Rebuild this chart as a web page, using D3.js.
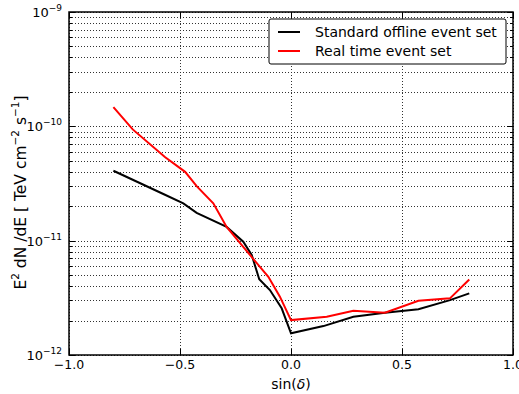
<!DOCTYPE html>
<html>
<head>
<meta charset="utf-8">
<script src="https://cdn.jsdelivr.net/npm/d3@7"></script>
<style>
  body { margin: 0; background: #fff; }
  text { font-family: "DejaVu Sans", sans-serif; }
</style>
</head>
<body>
<div class="canvas"></div>
<script>
// sin(dec) positions and fluxes
const offlineX = [-0.8, -0.575, -0.485, -0.425, -0.29, -0.215, -0.177, -0.143, -0.095, -0.042, 0.0, 0.146, 0.281, 0.423, 0.574, 0.716, 0.803];
const offlineY = [4.09e-11, 2.56e-11, 2.12e-11, 1.75e-11, 1.32e-11, 9.8e-12, 7.5e-12, 4.6e-12, 3.7e-12, 2.56e-12, 1.55e-12, 1.79e-12, 2.16e-12, 2.34e-12, 2.51e-12, 3.02e-12, 3.46e-12];
const realX = [-0.8, -0.713, -0.568, -0.477, -0.425, -0.35, -0.29, -0.185, -0.14, -0.102, -0.05, 0.0, 0.161, 0.281, 0.423, 0.574, 0.716, 0.803];
const realY = [1.47e-10, 9.4e-11, 5.4e-11, 4.0e-11, 3.0e-11, 2.12e-11, 1.32e-11, 7.5e-12, 5.9e-12, 4.83e-12, 3.24e-12, 2.02e-12, 2.16e-12, 2.44e-12, 2.34e-12, 2.98e-12, 3.13e-12, 4.58e-12];
const xTicks = [-1.0, -0.5, 0.0, 0.5, 1.0];
const yExps = [-12, -11, -10, -9];
const seriesNames = ['Standard offline event set', 'Real time event set'];
const seriesColors = ['#000000', '#ff0000'];

const dim = { width: 519, height: 394 };
const margin = { left: 69, right: 6, top: 12, bottom: 39 };

const svg = d3.select('.canvas').append('svg')
    .attr('width', dim.width)
    .attr('height', dim.height);

const x = d3.scaleLinear().domain([-1, 1]).range([margin.left, dim.width - margin.right]);
const y = d3.scaleLog().domain([1e-12, 1e-9]).range([dim.height - margin.bottom, margin.top]);

const x0 = x.range()[0], x1 = x.range()[1];
const y0 = y.range()[0], y1 = y.range()[1];

// minor log ticks
const minorY = [];
yExps.slice(0, 3).forEach(e => {
    for (let m = 2; m <= 9; m++) minorY.push(m * Math.pow(10, e));
});
const majorY = yExps.map(e => Math.pow(10, e));

// grid
const grid = svg.append('g')
    .attr('stroke', '#000')
    .attr('stroke-width', 1)
    .attr('stroke-dasharray', '1,2')
    .attr('opacity', 0.8);

grid.selectAll('.gy')
    .data(minorY.concat(majorY))
    .enter().append('line')
    .attr('x1', x0).attr('x2', x1)
    .attr('y1', d => Math.round(y(d)) + 0.5)
    .attr('y2', d => Math.round(y(d)) + 0.5);

grid.selectAll('.gx')
    .data(xTicks)
    .enter().append('line')
    .attr('y1', y0).attr('y2', y1)
    .attr('x1', d => Math.round(x(d)) + 0.5)
    .attr('x2', d => Math.round(x(d)) + 0.5);

// lines
const lineGen = d3.line()
    .x(d => x(d[0]))
    .y(d => y(d[1]));

const series = [
    d3.zip(offlineX, offlineY),
    d3.zip(realX, realY)
];

svg.selectAll('.series')
    .data(series)
    .enter().append('path')
    .attr('class', 'series')
    .attr('fill', 'none')
    .attr('stroke', (d, i) => seriesColors[i])
    .attr('stroke-width', 2)
    .attr('d', lineGen);

// ticks (inward, all four sides)
const ticks = svg.append('g').attr('stroke', '#000').attr('stroke-width', 1);
xTicks.forEach(t => {
    const px = Math.round(x(t)) + 0.5;
    ticks.append('line').attr('x1', px).attr('x2', px).attr('y1', y0).attr('y2', y0 - 6);
    ticks.append('line').attr('x1', px).attr('x2', px).attr('y1', y1).attr('y2', y1 + 6);
});
majorY.forEach(t => {
    const py = Math.round(y(t)) + 0.5;
    ticks.append('line').attr('x1', x0).attr('x2', x0 + 6).attr('y1', py).attr('y2', py);
    ticks.append('line').attr('x1', x1).attr('x2', x1 - 6).attr('y1', py).attr('y2', py);
});
minorY.forEach(t => {
    const py = Math.round(y(t)) + 0.5;
    ticks.append('line').attr('x1', x0).attr('x2', x0 + 3).attr('y1', py).attr('y2', py);
    ticks.append('line').attr('x1', x1).attr('x2', x1 - 3).attr('y1', py).attr('y2', py);
});

// frame
svg.append('rect')
    .attr('x', x0).attr('y', y1)
    .attr('width', x1 - x0).attr('height', y0 - y1)
    .attr('fill', 'none')
    .attr('stroke', '#000')
    .attr('stroke-width', 1.5);

// x tick labels
svg.selectAll('.xl')
    .data(xTicks)
    .enter().append('text')
    .attr('x', d => x(d))
    .attr('y', y0 + 14)
    .attr('text-anchor', 'middle')
    .attr('font-size', 12.5)
    .attr('fill', '#000')
    .text(d => d3.format('.1f')(d).replace('-', '\u2212'));

// y tick labels 10^n
const yl = svg.selectAll('.yl')
    .data(yExps)
    .enter().append('text')
    .attr('x', x0 - 7)
    .attr('y', d => y(Math.pow(10, d)) + 5)
    .attr('text-anchor', 'end')
    .attr('font-size', 13)
    .attr('fill', '#000');
yl.append('tspan').text('10');
yl.append('tspan').attr('dy', -6).attr('font-size', 9).text(d => '\u2212' + Math.abs(d));

// axis labels
const xl = svg.append('text')
    .attr('x', (x0 + x1) / 2)
    .attr('y', dim.height - 5)
    .attr('text-anchor', 'middle')
    .attr('font-size', 14)
    .attr('fill', '#000');
xl.append('tspan').text('sin(');
xl.append('tspan').attr('font-style', 'italic').text('\u03b4');
xl.append('tspan').text(')');

const ylab = svg.append('text')
    .attr('transform', `translate(26, ${(y0 + y1) / 2 + 9}) rotate(-90)`)
    .attr('text-anchor', 'middle')
    .attr('font-size', 15.5)
    .attr('fill', '#000');
ylab.append('tspan').text('E');
ylab.append('tspan').attr('dy', -7).attr('font-size', 10.5).text('2');
ylab.append('tspan').attr('dy', 7).text('  dN /dE [ TeV cm');
ylab.append('tspan').attr('dy', -7).attr('font-size', 10.5).text('\u22122');
ylab.append('tspan').attr('dy', 7).text(' s');
ylab.append('tspan').attr('dy', -7).attr('font-size', 10.5).text('\u22121');
ylab.append('tspan').attr('dy', 7).text(']');

// legend
const legendGroup = svg.append('g').attr('transform', 'translate(269, 19)');
legendGroup.append('rect')
    .attr('width', 237).attr('height', 45)
    .attr('rx', 2)
    .attr('fill', '#fff')
    .attr('stroke', '#000')
    .attr('stroke-width', 1);
seriesNames.forEach((name, i) => {
    const ly = 13 + i * 19;
    legendGroup.append('line')
        .attr('x1', 9).attr('x2', 31)
        .attr('y1', ly).attr('y2', ly)
        .attr('stroke', seriesColors[i])
        .attr('stroke-width', 2);
    legendGroup.append('text')
        .attr('x', 46).attr('y', ly + 5)
        .attr('font-size', 14)
        .attr('fill', '#000')
        .text(name);
});
</script>
</body>
</html>
